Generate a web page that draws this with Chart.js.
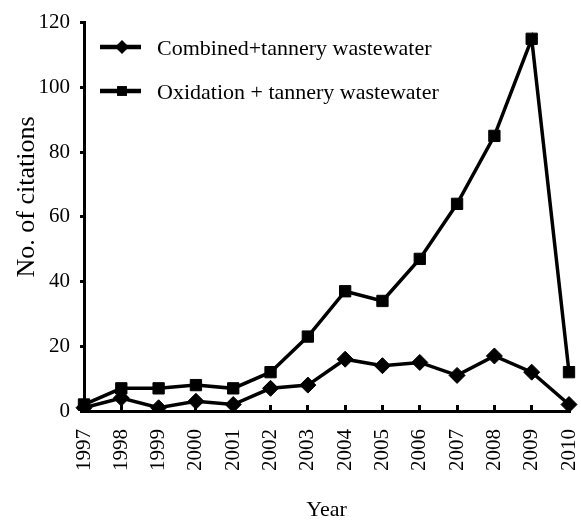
<!DOCTYPE html>
<html>
<head>
<meta charset="utf-8">
<title>Citations per year</title>
<script src="https://cdn.jsdelivr.net/npm/chart.js@4/dist/chart.umd.min.js"></script>
<style>
    html, body { margin: 0; padding: 0; background: #fff; }
    #wrap { width: 581px; height: 523px; position: relative; }
</style>
</head>
<body>
<div id="wrap"><canvas id="chart" width="581" height="523"></canvas></div>
<script>
// Data
const years = ["1997", "1998", "1999", "2000", "2001", "2002", "2003", "2004", "2005", "2006", "2007", "2008", "2009", "2010"];
const combined = [1, 4, 1, 3, 2, 7, 8, 16, 14, 15, 11, 17, 12, 2];
const oxidation = [2, 7, 7, 8, 7, 12, 23, 37, 34, 47, 64, 85, 115, 12];
const yTicks = [0, 20, 40, 60, 80, 100, 120];
const seriesNames = ["Combined+tannery wastewater", "Oxidation + tannery wastewater"];
const yTitle = "No. of citations";
const xTitle = "Year";

const FONT = '"Liberation Serif", "Times New Roman", serif';
const INK = "#000";

// Draws a legend marker with the same style the dataset uses
const drawMarker = (ctx, style, x, y, r) => {
    ctx.beginPath();
    if (style === "rectRot") {
        ctx.moveTo(x, y - r);
        ctx.lineTo(x + r, y);
        ctx.lineTo(x, y + r);
        ctx.lineTo(x - r, y);
        ctx.closePath();
    } else {
        const s = Math.SQRT1_2 * r;
        ctx.rect(x - s, y - s, 2 * s, 2 * s);
    }
    ctx.fill();
};

// In-plot legend and the y title, placed like the original
const overlay = {
    id: "overlay",
    afterDraw(chart) {
        const ctx = chart.ctx;
        ctx.save();
        ctx.fillStyle = INK;
        ctx.font = `26px ${FONT}`;
        ctx.textAlign = "center";
        ctx.textBaseline = "middle";
        ctx.translate(27, 197);
        ctx.rotate(-Math.PI / 2);
        ctx.fillText(yTitle, 0, 0);
        ctx.restore();

        ctx.save();
        ctx.font = `22px ${FONT}`;
        ctx.textAlign = "left";
        ctx.textBaseline = "alphabetic";
        chart.data.datasets.forEach((ds, i) => {
            const y = 47 + i * 44;
            ctx.strokeStyle = ds.borderColor;
            ctx.fillStyle = ds.pointBackgroundColor;
            ctx.lineWidth = 4.5;
            ctx.beginPath();
            ctx.moveTo(100, y);
            ctx.lineTo(141, y);
            ctx.stroke();
            drawMarker(ctx, ds.pointStyle, 122, y, ds.pointRadius - 1);
            ctx.fillStyle = INK;
            ctx.fillText(ds.label, 157, y + 8);
        });
        ctx.restore();
    }
};

const dataset = (label, data, style, radius) => ({
    label,
    data,
    borderColor: INK,
    backgroundColor: INK,
    borderWidth: 3.5,
    pointStyle: style,
    pointRadius: radius,
    pointBackgroundColor: INK,
    pointBorderColor: INK,
    pointBorderWidth: 1,
    tension: 0,
    fill: false
});

new Chart(document.getElementById("chart"), {
    type: "line",
    data: {
        labels: years,
        datasets: [
            dataset(seriesNames[0], combined, "rectRot", 8),
            dataset(seriesNames[1], oxidation, "rect", 8)
        ]
    },
    options: {
        responsive: false,
        animation: false,
        layout: { padding: { top: 19, right: 12, left: 0, bottom: 0 } },
        plugins: {
            legend: { display: false },
            tooltip: { enabled: false }
        },
        scales: {
            x: {
                type: "category",
                offset: false,
                grid: { display: true, drawOnChartArea: false, drawTicks: true, tickLength: -6, tickWidth: 3, tickColor: INK },
                border: { display: true, color: INK, width: 3 },
                ticks: { color: INK, font: { family: FONT, size: 21 }, minRotation: 90, maxRotation: 90, autoSkip: false, padding: 24 },
                title: { display: true, text: xTitle, color: INK, font: { family: FONT, size: 22 }, padding: 0 },
                // tick padding would otherwise be added to the right edge
                afterFit: (s) => { s.height = 112; s.paddingRight = 0; s.paddingLeft = 0; }
            },
            y: {
                min: 0,
                max: 120,
                afterBuildTicks: (s) => { s.ticks = yTicks.map(v => ({ value: v })); },
                grid: { display: true, drawOnChartArea: false, drawTicks: true, tickLength: 4, tickWidth: 3, tickColor: INK },
                border: { display: true, color: INK, width: 3 },
                ticks: { color: INK, font: { family: FONT, size: 21 }, padding: 10 },
                afterFit: (s) => { s.width = 84; }
            }
        }
    },
    plugins: [overlay]
});
</script>
</body>
</html>
